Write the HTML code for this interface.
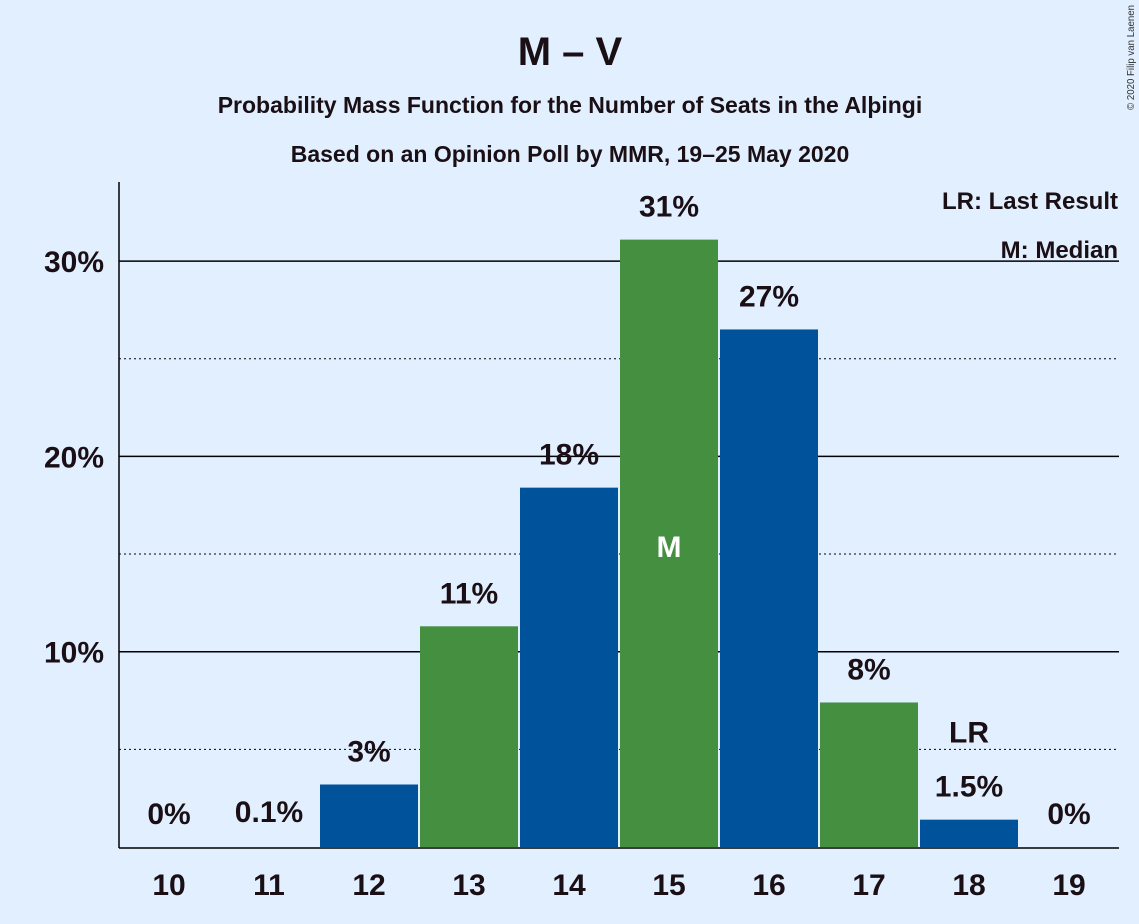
<!DOCTYPE html>
<html><head><meta charset="utf-8"><style>
html,body{margin:0;padding:0;background:#e1efff;}
svg{display:block;font-family:"Liberation Sans",sans-serif;}
</style></head><body>
<svg id="chart" width="1139" height="924" viewBox="0 0 1139 924">
<rect width="1139" height="924" fill="#e1efff"/>
<text x="570" y="65" text-anchor="middle" font-size="40" font-weight="bold" fill="#1a0f14">M – V</text>
<text x="570" y="113" text-anchor="middle" font-size="23" font-weight="bold" fill="#1a0f14">Probability Mass Function for the Number of Seats in the Alþingi</text>
<text x="570" y="162" text-anchor="middle" font-size="23" font-weight="bold" fill="#1a0f14">Based on an Opinion Poll by MMR, 19–25 May 2020</text>
<text transform="translate(1134,110) rotate(-90)" font-size="10" textLength="105" lengthAdjust="spacingAndGlyphs" fill="#333">© 2020 Filip van Laenen</text>
<text x="1118" y="209" text-anchor="end" font-size="24" font-weight="bold" fill="#1a0f14">LR: Last Result</text>
<text x="1118" y="258" text-anchor="end" font-size="24" font-weight="bold" fill="#1a0f14">M: Median</text>
<g id="grid"></g><g id="bars"></g><g id="labels"></g>
<line x1="119" y1="182" x2="119" y2="848" stroke="#000" stroke-width="1.5"/>
<line x1="119" y1="848" x2="1119" y2="848" stroke="#000" stroke-width="1.5"/>
</svg>
<script>
const categories=[10,11,12,13,14,15,16,17,18,19];
const values=[0,0.1,3.2,11.3,18.4,31.1,26.5,7.4,1.4,0];
const valueLabels=["0%","0.1%","3%","11%","18%","31%","27%","8%","1.5%","0%"];
const yTicks=[10,20,30];
const yTickLabels=["10%","20%","30%"];
const minorTicks=[5,15,25];
const medianSeat=15, lastResultSeat=18;
const NS="http://www.w3.org/2000/svg";
const y=v=>847-v*19.53;
const x=c=>169+(c-10)*100;
function mk(t,a,p){const e=document.createElementNS(NS,t);for(const k in a)e.setAttribute(k,a[k]);p.appendChild(e);return e;}
const grid=document.getElementById('grid'),bars=document.getElementById('bars'),labels=document.getElementById('labels');
minorTicks.forEach(v=>{const l=mk('line',{x1:119,x2:1119,y1:y(v),y2:y(v),stroke:'#000','stroke-dasharray':'2,3','stroke-width':1},grid);

});
yTicks.forEach((v,i)=>{const l=mk('line',{x1:119,x2:1119,y1:y(v),y2:y(v),stroke:'#000','stroke-width':1.5},grid);


const t=mk('text',{x:104,y:y(v)+11,'text-anchor':'end','font-size':30,'font-weight':'bold',fill:'#1a0f14'},grid);t.textContent=yTickLabels[i];

});
categories.forEach((c,i)=>{
 const col=c%2===0?'#00529b':'#458f41';
 if(values[i]>=0.5){const r=mk('rect',{x:x(c)-49,y:y(values[i]),width:98,height:847-y(values[i]),fill:col},bars);
 
 }
 const t=mk('text',{x:x(c),y:y(values[i])-23,'text-anchor':'middle','font-size':30,'font-weight':'bold',fill:'#1a0f14'},labels);t.textContent=valueLabels[i];
 
 
 const xt=mk('text',{x:x(c),y:895,'text-anchor':'middle','font-size':30,'font-weight':'bold',fill:'#1a0f14'},labels);xt.textContent=c;
 
 
 if(c===medianSeat){const m=mk('text',{x:x(c),y:557,'text-anchor':'middle','font-size':30,'font-weight':'bold',fill:'#fff'},labels);m.textContent='M';
 
 }
 if(c===lastResultSeat){const m=mk('text',{x:x(c),y:y(values[i])-77,'text-anchor':'middle','font-size':30,'font-weight':'bold',fill:'#1a0f14'},labels);m.textContent='LR';
 
 }
});
</script>
</body></html>
